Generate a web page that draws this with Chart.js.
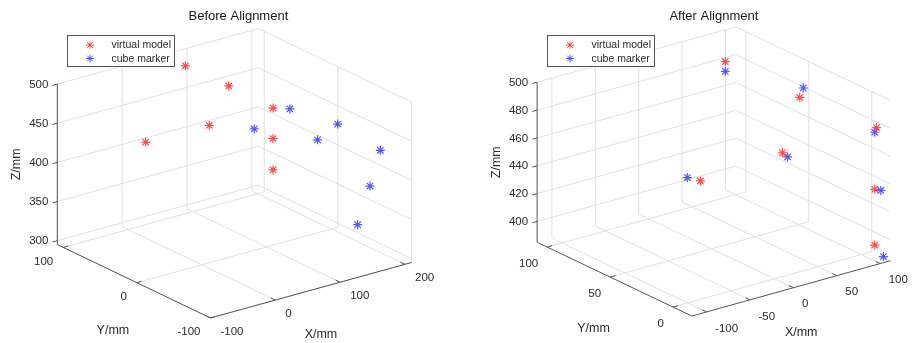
<!DOCTYPE html>
<html>
<head>
<meta charset="utf-8">
<title>Alignment</title>
<script src="https://cdn.jsdelivr.net/npm/chart.js@4/dist/chart.umd.min.js"></script>
<style>
    html, body { margin: 0; padding: 0; background: #ffffff; }
    body { width: 915px; height: 343px; position: relative; overflow: hidden; }
    .panel { position: absolute; top: 0; height: 343px; }
    #panel-before { left: 0; width: 457px; }
    #panel-after { left: 457px; width: 458px; }
</style>
</head>
<body>
<div class="panel" id="panel-before"><canvas id="chart-before"></canvas></div>
<div class="panel" id="panel-after"><canvas id="chart-after"></canvas></div>
<script>
"use strict";

// ---------- Data: [X, Y, Z] in mm ----------

const BEFORE_MODEL = [
    [77, 90, 491], [144, 90, 450], [57, 40, 442], [-41, 40, 443],
    [110, 0, 470], [110, 0, 431], [110, 0, 391],
];
const BEFORE_MARKER = [
    [81, 0, 450], [136, 0, 463], [156, -20, 428], [187, -20, 441],
    [196, -70, 428], [180, -70, 386], [161, -70, 341],
];
const AFTER_MODEL = [
    [81, 95, 486], [87, 40, 483], [96, 60, 433], [103, -10, 480],
    [-13, 50, 436], [101, -10, 436], [101, -10, 396],
];
const AFTER_MARKER = [
    [81, 95, 479], [91, 40, 489], [102, 60, 429], [101, -10, 477],
    [-28, 50, 441], [108, -10, 434], [111, -10, 386],
];

const BEFORE_X_TICKS = [-100, 0, 100, 200];
const BEFORE_Y_TICKS = [-100, 0, 100];
const BEFORE_Z_TICKS = [300, 350, 400, 450, 500];
const AFTER_X_TICKS = [-100, -50, 0, 50, 100];
const AFTER_Y_TICKS = [0, 50, 100];
const AFTER_Z_TICKS = [400, 420, 440, 460, 480, 500];

const SERIES_LABELS = ["virtual model", "cube marker"];
const SERIES_COLORS = ["rgba(255, 30, 30, 0.8)", "rgba(30, 30, 255, 0.75)"];

// ---------- Camera setup for each subplot ----------
// origin = screen spot of (xmin, ymin, zmin); ex/ey/ez = screen shift per mm

const VIEWS = {
    before: {
        title: "Before Alignment",
        xlim: [-100, 210], ylim: [-100, 108], zlim: [295, 500],
        origin: [210, 323],
        ex: [0.665, -0.185], ey: [-0.755, -0.365], ez: [0, -0.81],
        ticks: { x: BEFORE_X_TICKS, y: BEFORE_Y_TICKS, z: BEFORE_Z_TICKS },
        yLabelOff: [-10, 14], xLabelOff: [10, 14],
        titleShift: 4,
    },
    after: {
        title: "After Alignment",
        xlim: [-117, 112], ylim: [-15, 108], zlim: [385, 500],
        origin: [235, 321],
        ex: [0.89, -0.25], ey: [-1.29, -0.62], ez: [0, -1.44],
        ticks: { x: AFTER_X_TICKS, y: AFTER_Y_TICKS, z: AFTER_Z_TICKS },
        yLabelOff: [-9, 17], xLabelOff: [8.5, 16.5],
        titleShift: 0,
    },
};

const FONT = '"Liberation Sans", Arial, Helvetica, sans-serif';
const GRID_COLOR = "#e0e0e0";
const AXIS_COLOR = "#555555";
const TEXT_COLOR = "#2b2b2b";

// ---------- Projection ----------

function project(view, X, Y, Z) {
    const a = X - view.xlim[0];
    const b = Y - view.ylim[0];
    const c = Z - view.zlim[0];
    return {
        x: view.origin[0] + a * view.ex[0] + b * view.ey[0] + c * view.ez[0],
        y: view.origin[1] + a * view.ex[1] + b * view.ey[1] + c * view.ez[1],
    };
}

function unit(v) {
    const len = Math.hypot(v[0], v[1]);
    return [v[0] / len, v[1] / len];
}

// ---------- Box, grid, axes and labels ----------

function makeAxesPlugin(view) {
    const toPx = (chart, X, Y, Z) => {
        const p = project(view, X, Y, Z);
        return { x: chart.scales.x.getPixelForValue(p.x), y: chart.scales.y.getPixelForValue(p.y) };
    };
    const seg = (ctx, p, q) => {
        ctx.beginPath();
        ctx.moveTo(p.x, p.y);
        ctx.lineTo(q.x, q.y);
        ctx.stroke();
    };

    return {
        id: "axes3d",
        beforeDatasetsDraw(chart) {
            const ctx = chart.ctx;
            const [x0, x1] = view.xlim;
            const [y0, y1] = view.ylim;
            const [z0, z1] = view.zlim;
            const P = (X, Y, Z) => toPx(chart, X, Y, Z);

            ctx.save();
            ctx.lineWidth = 1;

            // grid on floor and the two back walls
            ctx.strokeStyle = GRID_COLOR;
            for (const X of view.ticks.x) {
                seg(ctx, P(X, y0, z0), P(X, y1, z0));
                seg(ctx, P(X, y1, z0), P(X, y1, z1));
            }
            for (const Y of view.ticks.y) {
                seg(ctx, P(x0, Y, z0), P(x1, Y, z0));
                seg(ctx, P(x1, Y, z0), P(x1, Y, z1));
            }
            for (const Z of view.ticks.z) {
                seg(ctx, P(x0, y1, Z), P(x1, y1, Z));
                seg(ctx, P(x1, y1, Z), P(x1, y0, Z));
            }

            // axis lines
            ctx.strokeStyle = AXIS_COLOR;
            seg(ctx, P(x0, y1, z0), P(x0, y1, z1));
            seg(ctx, P(x0, y0, z0), P(x0, y1, z0));
            seg(ctx, P(x0, y0, z0), P(x1, y0, z0));

            // tick marks
            const ux = unit(view.ex);
            const uy = unit(view.ey);
            const TL = 5;
            for (const Z of view.ticks.z) {
                const p = P(x0, y1, Z);
                seg(ctx, p, { x: p.x - ux[0] * TL, y: p.y - ux[1] * TL });
            }
            for (const Y of view.ticks.y) {
                const p = P(x0, Y, z0);
                seg(ctx, p, { x: p.x + ux[0] * TL, y: p.y + ux[1] * TL });
            }
            for (const X of view.ticks.x) {
                const p = P(X, y0, z0);
                seg(ctx, p, { x: p.x + uy[0] * TL, y: p.y + uy[1] * TL });
            }

            // tick labels
            ctx.fillStyle = TEXT_COLOR;
            ctx.font = `11.5px ${FONT}`;
            ctx.textBaseline = "middle";
            ctx.textAlign = "right";
            for (const Z of view.ticks.z) {
                const p = P(x0, y1, Z);
                ctx.fillText(String(Z), p.x - 9, p.y + 0.5);
            }
            for (const Y of view.ticks.y) {
                const p = P(x0, Y, z0);
                ctx.fillText(String(Y), p.x + view.yLabelOff[0], p.y + view.yLabelOff[1]);
            }
            ctx.textAlign = "left";
            for (const X of view.ticks.x) {
                const p = P(X, y0, z0);
                ctx.fillText(String(X), p.x + view.xLabelOff[0], p.y + view.xLabelOff[1]);
            }

            // axis titles
            ctx.font = `12.5px ${FONT}`;
            ctx.textAlign = "center";
            const zb = P(x0, y1, z0);
            const zt = P(x0, y1, z1);
            ctx.save();
            ctx.translate(zb.x - 41, (zb.y + zt.y) / 2);
            ctx.rotate(-Math.PI / 2);
            ctx.fillText("Z/mm", 0, 0);
            ctx.restore();

            const ya = P(x0, y0, z0);
            const yb = P(x0, y1, z0);
            ctx.fillText("Y/mm", (ya.x + yb.x) / 2 - 21, (ya.y + yb.y) / 2 + 49);
            const xb = P(x1, y0, z0);
            ctx.fillText("X/mm", (ya.x + xb.x) / 2 + 10, (ya.y + xb.y) / 2 + 44.5);

            // title, centred over the box
            ctx.font = `13px ${FONT}`;
            ctx.fillStyle = "#1a1a1a";
            ctx.fillText(view.title, (zb.x + xb.x) / 2 + view.titleShift, 16);

            ctx.restore();
        },
        afterDatasetsDraw(chart) {
            const ctx = chart.ctx;
            const zt = toPx(chart, view.xlim[0], view.ylim[1], view.zlim[1]);
            const bx = Math.round(zt.x + 10) + 0.5;
            const by = 35.5;
            const bw = 107;
            const bh = 31;

            ctx.save();
            ctx.fillStyle = "#ffffff";
            ctx.fillRect(bx, by, bw, bh);
            ctx.strokeStyle = AXIS_COLOR;
            ctx.lineWidth = 1;
            ctx.strokeRect(bx, by, bw, bh);

            ctx.font = `10.5px ${FONT}`;
            ctx.textAlign = "left";
            ctx.textBaseline = "middle";
            SERIES_LABELS.forEach((label, i) => {
                const cy = by + 9.5 + i * 13.5;
                drawStar(ctx, bx + 22.5, cy, 4, SERIES_COLORS[i]);
                ctx.fillStyle = TEXT_COLOR;
                ctx.fillText(label, bx + 44, cy + 0.5);
            });
            ctx.restore();
        },
    };
}

function drawStar(ctx, x, y, r, color) {
    ctx.save();
    ctx.strokeStyle = color;
    ctx.lineWidth = 1;
    ctx.beginPath();
    for (let k = 0; k < 4; k++) {
        const a = (k * Math.PI) / 4;
        const dx = Math.cos(a) * r;
        const dy = Math.sin(a) * r;
        ctx.moveTo(x - dx, y - dy);
        ctx.lineTo(x + dx, y + dy);
    }
    ctx.stroke();
    ctx.restore();
}

// ---------- Charts ----------

function buildChart(canvasId, view, modelPts, markerPts) {
    const canvas = document.getElementById(canvasId);
    const w = canvas.parentElement.clientWidth;
    const h = canvas.parentElement.clientHeight;
    const toXY = (pts) => pts.map(([X, Y, Z]) => project(view, X, Y, Z));

    return new Chart(canvas, {
        type: "scatter",
        data: {
            datasets: [modelPts, markerPts].map((pts, i) => ({
                label: SERIES_LABELS[i],
                data: toXY(pts),
                pointStyle: "star",
                pointRadius: 4.5,
                pointBorderWidth: 1.2,
                borderColor: SERIES_COLORS[i],
                backgroundColor: SERIES_COLORS[i],
                showLine: false,
                clip: false,
            })),
        },
        options: {
            responsive: true,
            maintainAspectRatio: false,
            animation: false,
            events: [],
            layout: { padding: 0 },
            scales: {
                x: { type: "linear", display: false, min: 0, max: w },
                y: { type: "linear", display: false, min: 0, max: h, reverse: true },
            },
            plugins: {
                legend: { display: false },
                title: { display: false },
                tooltip: { enabled: false },
            },
        },
        plugins: [makeAxesPlugin(view)],
    });
}

buildChart("chart-before", VIEWS.before, BEFORE_MODEL, BEFORE_MARKER);
buildChart("chart-after", VIEWS.after, AFTER_MODEL, AFTER_MARKER);
</script>
</body>
</html>
